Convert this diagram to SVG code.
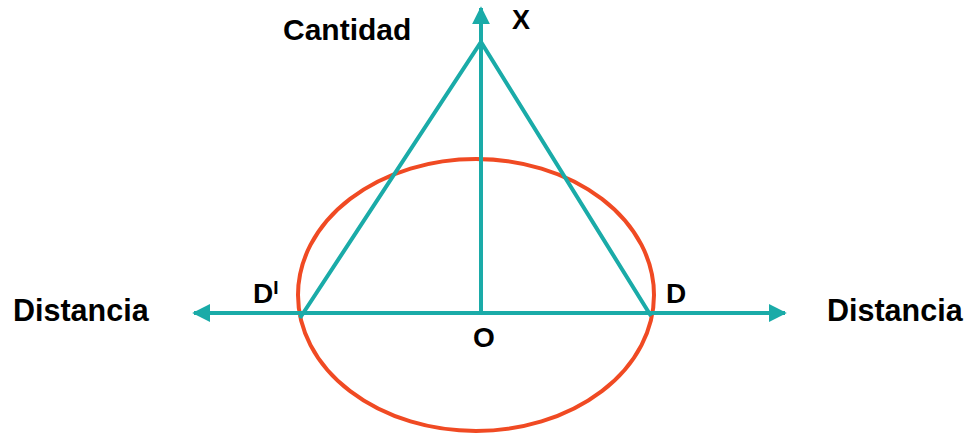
<svg xmlns="http://www.w3.org/2000/svg" width="966" height="433" viewBox="0 0 966 433">
<style>
.t{font-family:"Liberation Sans",Arial,sans-serif;font-weight:bold;fill:#000;}
.ax{stroke:#1AABA8;stroke-width:4;fill:none;}
.el{stroke:#F04A23;stroke-width:4;fill:none;}
</style>
<defs>
<marker id="ah" viewBox="0 0 10 10" refX="9" refY="5" markerWidth="4.5" markerHeight="4.5" orient="auto" markerUnits="strokeWidth">
<path d="M0,0 L10,5 L0,10 z" fill="#1AABA8"/>
</marker>
</defs>
<rect width="966" height="433" fill="#fff"/>
<g id="ellipse"><ellipse class="el" cx="476" cy="295" rx="178" ry="136"/></g>
<g id="connectors">
<line class="ax" x1="481" y1="313" x2="481" y2="8" marker-end="url(#ah)"/>
<line class="ax" x1="481" y1="313" x2="785" y2="313" marker-end="url(#ah)"/>
<line class="ax" x1="481" y1="313" x2="194" y2="313" marker-end="url(#ah)"/>
<polyline class="ax" points="300,318 481,42 651,316"/>
</g>
<g id="labels">
<text class="t" x="283" y="40" font-size="30">Cantidad</text>
<text class="t" x="512" y="29" font-size="27">X</text>
<text class="t" x="13" y="321" font-size="30.5">Distancia</text>
<text class="t" x="827" y="321" font-size="30.5">Distancia</text>
<text class="t" x="253" y="303" font-size="28">D<tspan font-size="19" dy="-9">I</tspan></text>
<text class="t" x="666" y="303" font-size="28">D</text>
<text class="t" x="473" y="347" font-size="28">O</text>
</g>
</svg>
